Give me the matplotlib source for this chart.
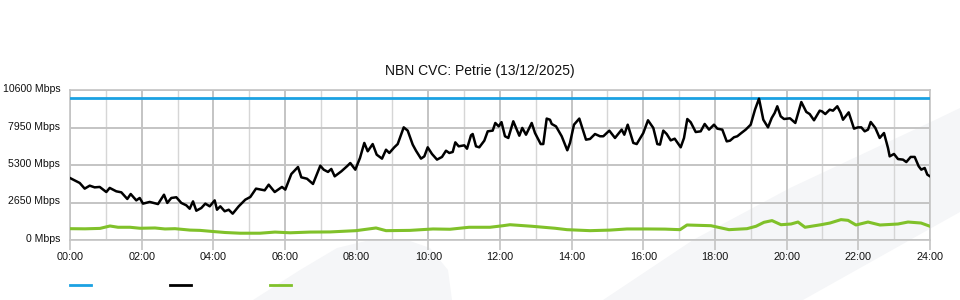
import matplotlib
matplotlib.use("Agg")
import matplotlib.pyplot as plt
import matplotlib.transforms as mtransforms
from matplotlib.lines import Line2D
from matplotlib.patches import Polygon

plt.rcParams['font.family'] = ['Liberation Sans', 'DejaVu Sans']

title = "NBN CVC: Petrie (13/12/2025)"
y_ticks = [0, 2650, 5300, 7950, 10600]
y_tick_labels = [f"{v} Mbps" for v in y_ticks]
x_ticks = list(range(0, 25, 2))
x_tick_labels = [f"{h:02d}:00" for h in x_ticks]

# capacity (blue)
cap_hours = [0, 24]
cap_values = [10000, 10000]

# black series: hours, Mbps
black_hours = [0, 0.271, 0.410, 0.550, 0.689, 0.829, 1.013, 1.108, 1.292, 1.432,
               1.599, 1.694, 1.850, 1.945, 2.037, 2.224, 2.456, 2.623, 2.715, 2.827,
               2.967, 3.106, 3.246, 3.340, 3.433, 3.525, 3.664, 3.776, 3.899, 4.038,
               4.102, 4.194, 4.317, 4.429, 4.540, 4.708, 4.892, 5.032, 5.191, 5.433,
               5.545, 5.713, 5.916, 6.008, 6.176, 6.363, 6.455, 6.614, 6.781, 6.985,
               7.080, 7.200, 7.292, 7.387, 7.571, 7.730, 7.822, 7.962, 8.093, 8.213,
               8.308, 8.447, 8.559, 8.707, 8.819, 8.911, 9.050, 9.145, 9.313, 9.424,
               9.564, 9.656, 9.795, 9.888, 9.982, 10.102, 10.242, 10.381, 10.493, 10.585,
               10.680, 10.753, 10.847, 11.004, 11.079, 11.191, 11.238, 11.330, 11.422, 11.562,
               11.657, 11.796, 11.869, 11.964, 12.042, 12.139, 12.232, 12.371, 12.539, 12.622,
               12.726, 12.885, 12.977, 13.136, 13.208, 13.303, 13.395, 13.443, 13.563, 13.722,
               13.878, 13.953, 14.065, 14.213, 14.400, 14.512, 14.651, 14.791, 14.883, 15.050,
               15.209, 15.396, 15.469, 15.564, 15.720, 15.815, 15.999, 16.130, 16.278, 16.390,
               16.465, 16.557, 16.652, 16.764, 16.875, 16.948, 17.043, 17.135, 17.227, 17.322,
               17.462, 17.601, 17.712, 17.833, 17.972, 18.064, 18.204, 18.327, 18.419, 18.530,
               18.622, 18.734, 18.857, 18.996, 19.116, 19.228, 19.348, 19.479, 19.582, 19.666,
               19.738, 19.833, 19.926, 20.093, 20.241, 20.409, 20.548, 20.643, 20.763, 20.922,
               20.986, 21.078, 21.201, 21.293, 21.413, 21.508, 21.572, 21.731, 21.879, 21.991,
               22.083, 22.178, 22.270, 22.345, 22.474, 22.596, 22.716, 22.828, 22.875, 22.995,
               23.107, 23.246, 23.339, 23.461, 23.573, 23.684, 23.757, 23.852, 23.925, 24.0]
black_values = [4380, 4030, 3630, 3840, 3720, 3750, 3390, 3680, 3440, 3370,
                2900, 3250, 2800, 2970, 2570, 2690, 2540, 3200, 2620, 2970,
                3020, 2620, 2450, 2210, 2730, 2070, 2260, 2570, 2380, 2800,
                2140, 2380, 2030, 2140, 1860, 2380, 2850, 3040, 3630, 3510,
                3910, 3390, 3750, 3560, 4660, 5160, 4430, 4330, 3960, 5250,
                4970, 4810, 5020, 4500, 4850, 5210, 5440, 4970, 5800, 6860,
                6270, 6780, 6030, 5750, 6380, 6150, 6550, 6780, 7960, 7730,
                6740, 6310, 5750, 5910, 6550, 6080, 5680, 5870, 6310, 6150,
                6220, 6900, 6620, 6690, 6450, 7400, 7490, 6620, 6550, 7020,
                7680, 7730, 8270, 8030, 8330, 7330, 7210, 8390, 7370, 7920,
                7440, 8270, 7560, 6780, 6780, 8580, 8500, 8200, 8030, 7330,
                6340, 6860, 8150, 8580, 7090, 7140, 7490, 7330, 7330, 7730,
                7210, 7800, 7440, 8150, 6860, 6780, 7560, 8460, 7920, 6780,
                6740, 7730, 7490, 7040, 7160, 6900, 6550, 7210, 8550, 8320,
                7630, 7680, 8200, 7800, 8150, 7870, 7800, 6970, 7020, 7260,
                7330, 7560, 7800, 8150, 9210, 9990, 8500, 7960, 8620, 8980,
                9450, 8740, 8550, 8600, 8270, 9750, 9050, 8900, 8460, 9140,
                9090, 8900, 9210, 9140, 9450, 8980, 8500, 9020, 7870, 7960,
                7960, 7680, 7800, 8340, 7920, 7210, 7560, 6500, 5910, 6080,
                5720, 5680, 5510, 5870, 5870, 5210, 4970, 5090, 4620, 4500]

# green series: hours, Mbps
green_hours = [0, 0.419, 0.837, 1.116, 1.340, 1.674, 1.953, 2.372, 2.651, 2.930,
               3.349, 3.628, 3.991, 4.326, 4.744, 5.302, 5.721, 6.140, 6.698, 7.256,
               7.981, 8.540, 8.819, 9.488, 10.130, 10.605, 11.135, 11.721, 12.084, 12.279,
               12.893, 13.535, 13.870, 14.512, 15.070, 15.544, 16.102, 16.605, 17.023, 17.219,
               17.888, 18.391, 18.893, 19.144, 19.367, 19.591, 19.842, 20.121, 20.316, 20.512,
               20.958, 21.209, 21.516, 21.712, 21.935, 22.270, 22.605, 23.107, 23.386, 23.749,
               24.0]
green_values = [800, 790, 820, 990, 900, 900, 830, 850, 780, 800,
                700, 680, 600, 530, 480, 480, 560, 510, 560, 570,
                660, 850, 660, 680, 780, 760, 900, 900, 1010, 1080,
                970, 830, 730, 660, 700, 780, 780, 770, 730, 1060,
                1010, 730, 800, 970, 1250, 1370, 1080, 1130, 1270, 900,
                1080, 1200, 1440, 1390, 1060, 1270, 1060, 1130, 1270, 1200,
                970]

blue_c = '#1ba1e2'
green_c = '#80c12a'
grid_c = '#c4c4c4'

fig = plt.figure(figsize=(9.6, 3.0), dpi=100)

# faint background watermark (drawn behind the axes)
wm = '#f5f6f8'
fig.patches.append(Polygon([(603/960, 0), (803/960, 0), (910/960, 60/300), (1.0, 88/300),
                            (1.0, 192/300), (935/960, 180/300), (790/960, 112/300),
                            (693/960, 60/300)], closed=True, transform=fig.transFigure,
                           facecolor=wm, edgecolor='none', zorder=-10))
fig.patches.append(Polygon([(253/960, 0), (300/960, 30/300), (337/960, 52/300), (370/960, 60/300),
                            (410/960, 59/300), (430/960, 52/300), (448/960, 30/300), (452/960, 0)],
                           closed=True, transform=fig.transFigure,
                           facecolor=wm, edgecolor='none', zorder=-10))

ax = fig.add_axes([70/960, 60/300, 860/960, 150/300])
ax.set_zorder(5)
ax.patch.set_alpha(0)

ax.plot(cap_hours, cap_values, color=blue_c, lw=2.0, zorder=3)
ax.plot(black_hours, black_values, color='black', lw=1.8, zorder=4)
ax.plot(green_hours, green_values, color=green_c, lw=2.2, zorder=3)

ax.set_xlim(0, 24)
ax.set_ylim(0, 10600)
ax.set_xticks(x_ticks)
ax.set_xticklabels(x_tick_labels)
ax.set_xticks(range(1, 24, 2), minor=True)
ax.set_yticks(y_ticks)
ax.set_yticklabels(y_tick_labels)

ax.grid(True, which='major', color=grid_c, lw=1.4)
ax.grid(True, which='minor', axis='x', color='#d6d6d6', lw=1.0)
ax.set_axisbelow(True)

ax.tick_params(axis='x', which='major', length=7, width=1.2, color=grid_c,
               labelsize=7.8, pad=1.5, labelcolor='#111111')
ax.tick_params(axis='x', which='minor', length=0)
ax.tick_params(axis='y', length=0, labelsize=7.6, pad=7, labelcolor='#111111')

# nudge y labels slightly upward, as in the reference
shift = mtransforms.ScaledTranslation(0, 2/100, fig.dpi_scale_trans)
for lbl in ax.get_yticklabels():
    lbl.set_transform(lbl.get_transform() + shift)

for s in ax.spines.values():
    s.set_color(grid_c)
    s.set_linewidth(1.2)

fig.text(0.5, 1 - 71/300, title, ha='center', va='center', fontsize=10, color='#111111')

# legend swatches (no labels)
for x0, c in [(70, blue_c), (170, 'black'), (270, green_c)]:
    fig.add_artist(Line2D([x0/960, (x0 + 21)/960], [15/300, 15/300], color=c, lw=2.0,
                          transform=fig.transFigure))

fig.savefig('out.png', dpi=100)
